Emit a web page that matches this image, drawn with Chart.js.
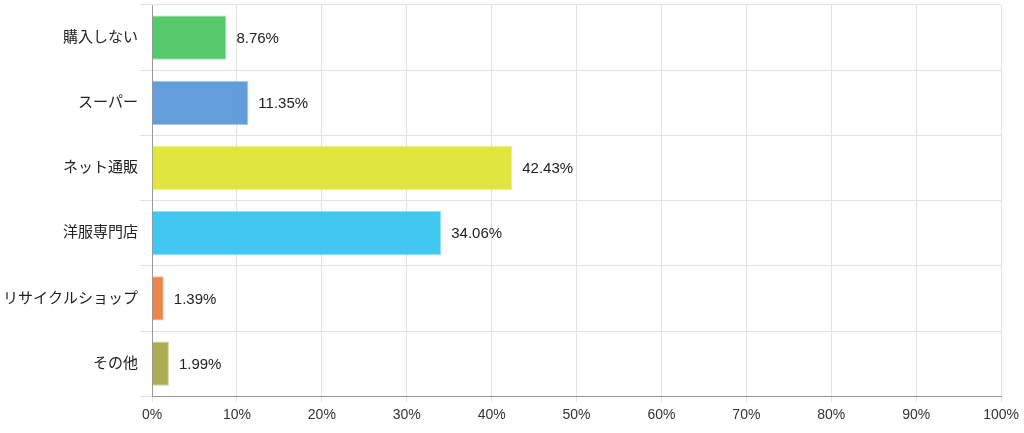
<!DOCTYPE html>
<html>
<head>
<meta charset="utf-8">
<script src="https://cdn.jsdelivr.net/npm/chart.js@4"></script>
<style>
  html, body { margin: 0; padding: 0; background: #fff; }
  #wrap { width: 1024px; height: 433px; }
</style>
</head>
<body>
<div id="wrap"><canvas id="barChart"></canvas></div>
<script>
const categories = ["購入しない", "スーパー", "ネット通販", "洋服専門店", "リサイクルショップ", "その他"];
const shares = [8.76, 11.35, 42.43, 34.06, 1.39, 1.99];
const barColors = ["#45c45e", "#5493d8", "#dde32a", "#2ec2ef", "#e77a37", "#a5a642"];
const xTicks = [0, 10, 20, 30, 40, 50, 60, 70, 80, 90, 100];

const fontFamily = "'Liberation Sans', 'Noto Sans CJK JP', Arial, sans-serif";

// draws the percentage text to the right of each bar
const valueLabels = {
    id: "valueLabels",
    afterDatasetsDraw(chart) {
        const ctx = chart.ctx;
        const meta = chart.getDatasetMeta(0);
        ctx.save();
        ctx.font = "15px " + fontFamily;
        ctx.fillStyle = "#222";
        ctx.textBaseline = "middle";
        meta.data.forEach((bar, i) => {
            ctx.fillText(shares[i].toFixed(2) + "%", bar.x + 10, bar.y + 1);
        });
        ctx.restore();
    }
};

new Chart(document.getElementById("barChart").getContext("2d"), {
    type: "bar",
    data: {
        labels: categories,
        datasets: [{
            data: shares,
            backgroundColor: barColors.map(c => c + "e8"),
            borderColor: barColors.map(c => c + "80"),
            borderWidth: 1,
            barPercentage: 0.68,
            categoryPercentage: 1
        }]
    },
    options: {
        indexAxis: "y",
        responsive: true,
        maintainAspectRatio: false,
        animation: false,
        layout: { padding: { top: 5, right: 22, bottom: 4, left: 1 } },
        plugins: {
            legend: { display: false },
            tooltip: { enabled: false }
        },
        scales: {
            x: {
                min: 0,
                max: 100,
                afterBuildTicks: axis => { axis.ticks = xTicks.map(v => ({ value: v })); },
                ticks: {
                    callback: v => v + "%",
                    color: "#333",
                    font: { size: 14, family: fontFamily },
                    maxRotation: 0,
                    padding: 5
                },
                grid: { color: "#e3e3e3", tickLength: 6 },
                border: { color: "#999" }
            },
            y: {
                afterFit: s => { s.paddingTop = 0; s.paddingBottom = 0; },
                ticks: {
                    color: "#222",
                    font: { size: 15, family: fontFamily },
                    padding: 2
                },
                grid: { color: "#e3e3e3", offset: true, tickLength: 12 },
                border: { color: "#999" }
            }
        }
    },
    plugins: [valueLabels]
});
</script>
</body>
</html>
